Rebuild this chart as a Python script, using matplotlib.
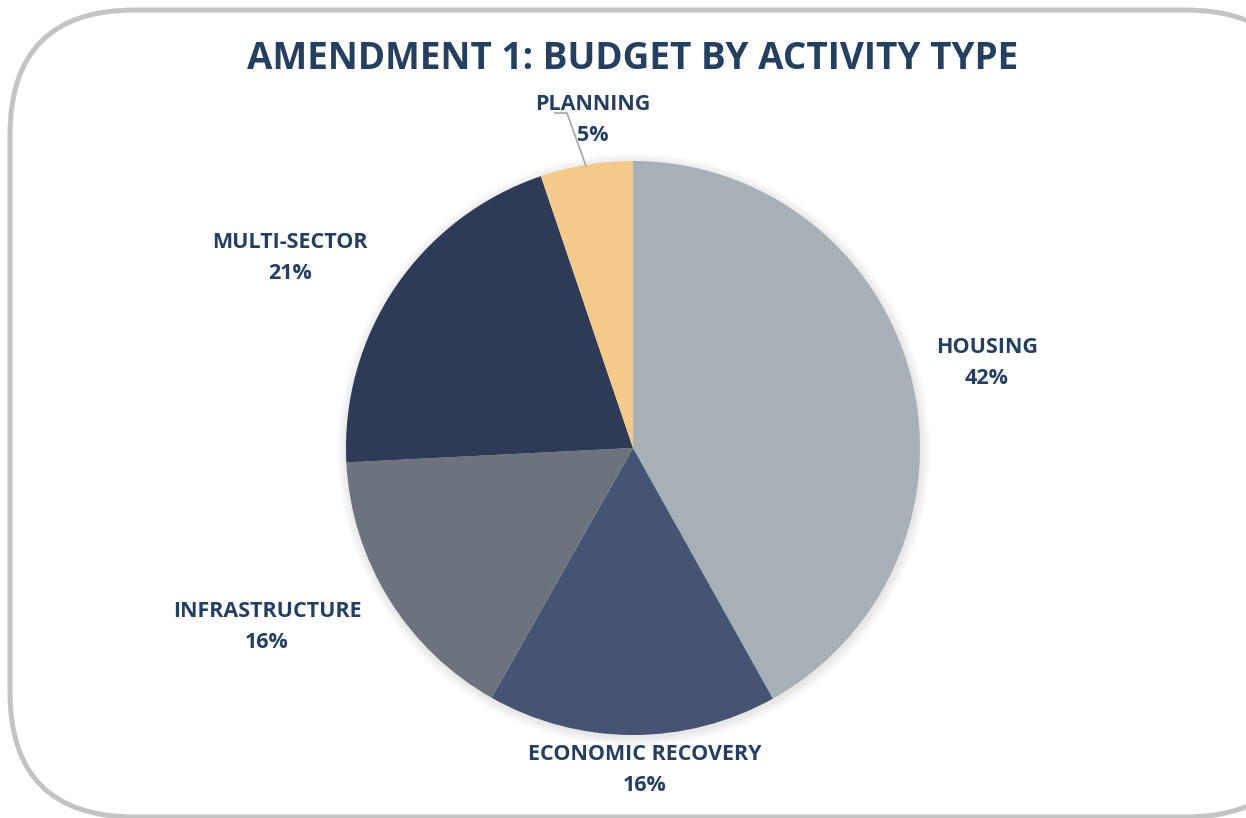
import matplotlib
matplotlib.use("Agg")
import matplotlib.pyplot as plt
import numpy as np
from matplotlib.patches import FancyBboxPatch, Circle

categories = ["HOUSING", "ECONOMIC RECOVERY", "INFRASTRUCTURE", "MULTI-SECTOR", "PLANNING"]
values = [41.9, 16.3, 16.0, 20.6, 5.2]
pct_labels = ["42%", "16%", "16%", "21%", "5%"]
colors = ["#A7B0B7", "#465473", "#6D737C", "#2F3A57", "#F4C98C"]
title = "AMENDMENT 1: BUDGET BY ACTIVITY TYPE"

W, H = 1246, 818
fig = plt.figure(figsize=(W / 100, H / 100), dpi=100)
ax = fig.add_axes([0, 0, 1, 1])
ax.set_xlim(0, W)
ax.set_ylim(0, H)
ax.set_aspect("equal")
ax.axis("off")

# rounded border
border = FancyBboxPatch((10 + 125, 1 + 125), 1300 - 250, 807 - 250,
                        boxstyle="round,pad=125", fc="white", ec="#C3C3C3", lw=3.6)
ax.add_patch(border)

cx, cy, R = 633, H - 448, 287

# soft shadow
for i in range(8):
    ax.add_patch(Circle((cx + 1, cy - 2), R + 1 + i * 1.2, fc="#000000", alpha=0.012, lw=0, zorder=1))

wedges, _ = ax.pie(values, colors=colors, startangle=90, counterclock=False,
                   center=(cx, cy), radius=R, frame=True,
                   wedgeprops=dict(linewidth=0, zorder=2))
ax.set_xlim(0, W)
ax.set_ylim(0, H)
ax.axis("off")

tc = "#243F60"
font = "Open Sans"
# label offsets relative to the pie centre (fraction of radius)
label_pos = [(1.233, 0.296), (0.042, -1.122), (-1.275, -0.624), (-1.195, 0.662), (-0.139, 1.143)]
for lab, pct, (fx, fy) in zip(categories, pct_labels, label_pos):
    ax.text(cx + fx * R, cy + fy * R, lab + "\n" + pct, ha="center", va="center",
            fontsize=15.5, fontweight="bold", color=tc, family=font, linespacing=1.62, zorder=5)

# leader line for PLANNING
ax.plot([555, 567, 586], [H - 113, H - 113, H - 166], color="#A6A6A6", lw=1.2, zorder=4)

ax.text(633, H - 59, title, ha="center", va="center", fontsize=26.6,
        fontweight="bold", color=tc, family=font, zorder=5)

fig.savefig("out.png", dpi=100)
